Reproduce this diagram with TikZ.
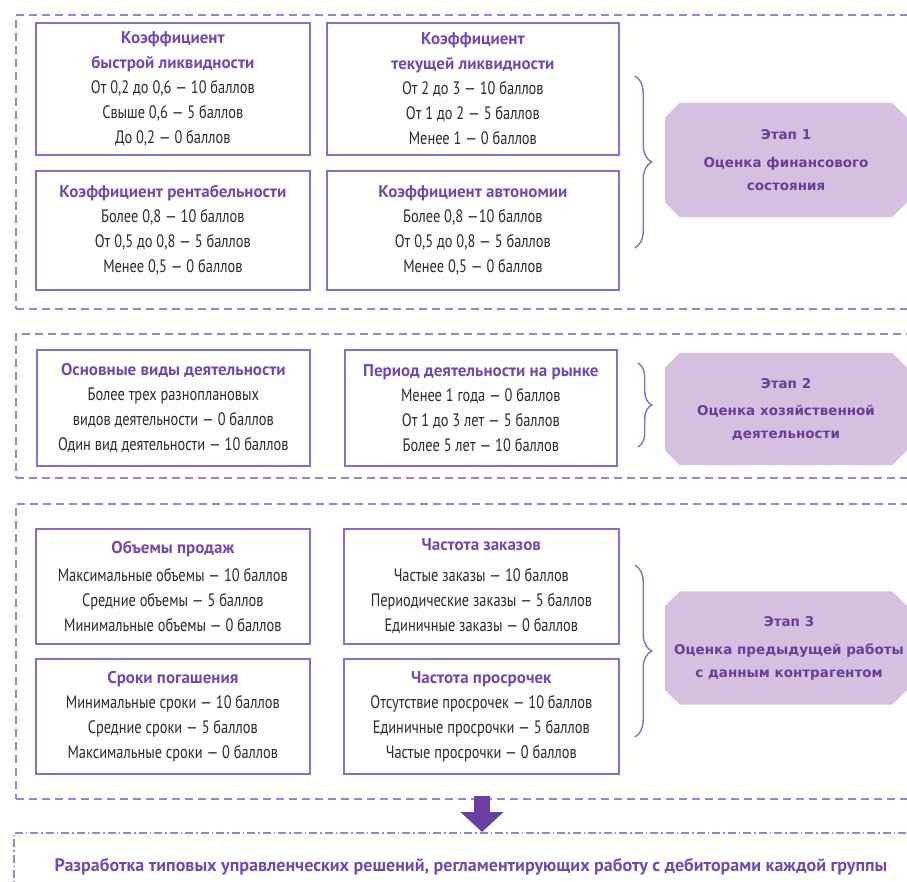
\documentclass[tikz,border=0pt]{standalone}
\usepackage{fontspec}
\setmainfont{PT Sans}[FakeStretch=0.8]
\newfontfamily\titlefont{PT Sans}
\newfontfamily\stagefont{DejaVu Sans}
\usetikzlibrary{decorations.pathreplacing,arrows.meta}
\definecolor{boxpurple}{HTML}{8C6CC4}
\definecolor{titlepurple}{HTML}{7548B0}
\definecolor{framepurple}{HTML}{9F82CF}
\definecolor{stagefill}{HTML}{D5C0E0}
\definecolor{stagetext}{HTML}{6A3D9A}
\definecolor{arrowfill}{HTML}{6B3FA0}
\definecolor{bodygray}{HTML}{2A2A2A}
\newcommand{\crittitle}[1]{{\titlefont\bfseries\fontsize{17}{25}\selectfont\color{titlepurple}#1}}
\newcommand{\stageplate}[1]{%
  \fill[stagefill] ([xshift=15pt]#1.north west) -- ([xshift=-15pt]#1.north east)
    -- ([yshift=-15pt]#1.north east) -- ([yshift=15pt]#1.south east)
    -- ([xshift=-15pt]#1.south east) -- ([xshift=15pt]#1.south west)
    -- ([yshift=15pt]#1.south west) -- ([yshift=-15pt]#1.north west) -- cycle;}
\tikzset{
critbox/.style={draw=boxpurple, line width=1.7pt, anchor=north west, align=center,
  inner sep=0pt, text=bodygray, font=\fontsize{18}{25}\selectfont},
stage/.style={inner sep=0pt, minimum width=242pt},
stagelabel/.style={text=stagetext, align=center, inner sep=0pt,
  font=\stagefont\bfseries\fontsize{13.5}{23}\selectfont},
stageframe/.style={draw=framepurple, line width=1.8pt, dash pattern=on 8pt off 5pt,
  anchor=north west, minimum width=910pt, inner sep=0pt},
resultframe/.style={draw=framepurple, line width=1.6pt,
  dash pattern=on 8pt off 3pt on 1.5pt off 3pt, anchor=north west,
  minimum width=910pt, inner sep=0pt},
stagebrace/.style={draw=boxpurple, line width=1.4pt, decorate,
  decoration={brace, amplitude=#1}},
stagebrace/.default=17pt,
downarrow/.style={draw=arrowfill, line width=16pt, -{Triangle[width=42pt,length=20pt]}}
}
\begin{document}
\begin{tikzpicture}[x=1pt, y=1pt]
\useasboundingbox (0,0) rectangle (907,-881);
\clip (0,0) rectangle (907,-881);
\node[stageframe, minimum height=294pt] (f1) at (15,-14) {};
\node[stageframe, minimum height=144pt] (f2) at (15,-333) {};
\node[stageframe, minimum height=295pt] (f3) at (15,-503) {};
\node[resultframe, minimum height=80pt] (f4) at (13,-832) {};

\node[critbox, minimum width=274pt, minimum height=132pt] (quick) at (35,-22)
  {\crittitle{Коэффициент}\\\crittitle{быстрой ликвидности}\\От 0,2 до 0,6 — 10 баллов\\Свыше 0,6 — 5 баллов\\До 0,2 — 0 баллов};
\node[critbox, minimum width=292pt, minimum height=132pt] (current) at (326,-22)
  {\crittitle{Коэффициент}\\\crittitle{текущей ликвидности}\\От 2 до 3 — 10 баллов\\От 1 до 2 — 5 баллов\\Менее 1 — 0 баллов};
\node[critbox, minimum width=274pt, minimum height=119pt] (profit) at (35,-170)
  {\crittitle{Коэффициент рентабельности}\\Более 0,8 — 10 баллов\\От 0,5 до 0,8 — 5 баллов\\Менее 0,5 — 0 баллов};
\node[critbox, minimum width=292pt, minimum height=119pt] (autonomy) at (326,-170)
  {\crittitle{Коэффициент автономии}\\Более 0,8 —10 баллов\\От 0,5 до 0,8 — 5 баллов\\Менее 0,5 — 0 баллов};

\node[critbox, minimum width=273pt, minimum height=116pt] (kinds) at (36,-349)
  {\crittitle{Основные виды деятельности}\\Более трех разноплановых\\видов деятельности — 0 баллов\\Один вид деятельности — 10 баллов};
\node[critbox, minimum width=272pt, minimum height=116pt] (period) at (344,-349)
  {\crittitle{Период деятельности на рынке}\\Менее 1 года — 0 баллов\\От 1 до 3 лет — 5 баллов\\Более 5 лет — 10 баллов};

\node[critbox, minimum width=274pt, minimum height=115pt] (sales) at (35,-528)
  {\crittitle{Объемы продаж}\\[3pt]Максимальные объемы — 10 баллов\\Средние объемы — 5 баллов\\Минимальные объемы — 0 баллов};
\node[critbox, minimum width=275pt, minimum height=115pt] (orders) at (343,-528)
  {\crittitle{Частота заказов}\\[6pt]Частые заказы — 10 баллов\\Периодические заказы — 5 баллов\\Единичные заказы — 0 баллов};
\node[critbox, minimum width=274pt, minimum height=115pt] (terms) at (35,-658)
  {\crittitle{Сроки погашения}\\Минимальные сроки — 10 баллов\\Средние сроки — 5 баллов\\Максимальные сроки — 0 баллов};
\node[critbox, minimum width=275pt, minimum height=115pt] (delays) at (343,-658)
  {\crittitle{Частота просрочек}\\Отсутствие просрочек — 10 баллов\\Единичные просрочки — 5 баллов\\Частые просрочки — 0 баллов};

\node[stage, minimum height=114pt] (stage1) at (786,-160) {};
\stageplate{stage1}
\node[stagelabel] (stage1text) at (stage1) {Этап 1\\[5pt]Оценка финансового\\состояния};
\node[stage, minimum height=112pt] (stage2) at (786,-409) {};
\stageplate{stage2}
\node[stagelabel] (stage2text) at (stage2) {Этап 2\\[4pt]Оценка хозяйственной\\деятельности};
\node[stage, minimum height=113pt] (stage3) at (786,-648) {};
\stageplate{stage3}
\node[stagelabel] (stage3text) at (789,-648) {Этап 3\\[5pt]Оценка предыдущей работы\\с данным контрагентом};

\node[font=\titlefont\bfseries\fontsize{18}{22}\selectfont, text=titlepurple] (result) at (471,-867)
  {Разработка типовых управленческих решений, регламентирующих работу с дебиторами каждой группы};

\draw[stagebrace] ([xshift=15pt]current.east |- 0,-76) -- ([xshift=15pt]autonomy.east |- 0,-248);
\draw[stagebrace=14pt] ([xshift=20pt]period.east |- 0,-363) -- ([xshift=20pt]period.east |- 0,-447);
\draw[stagebrace] ([xshift=15pt]orders.east |- 0,-565) -- ([xshift=15pt]delays.east |- 0,-737);

\coordinate (arrowtop) at (482,-796);
\draw[downarrow] (arrowtop) -- (arrowtop |- f4.north);
\end{tikzpicture}
\end{document}
